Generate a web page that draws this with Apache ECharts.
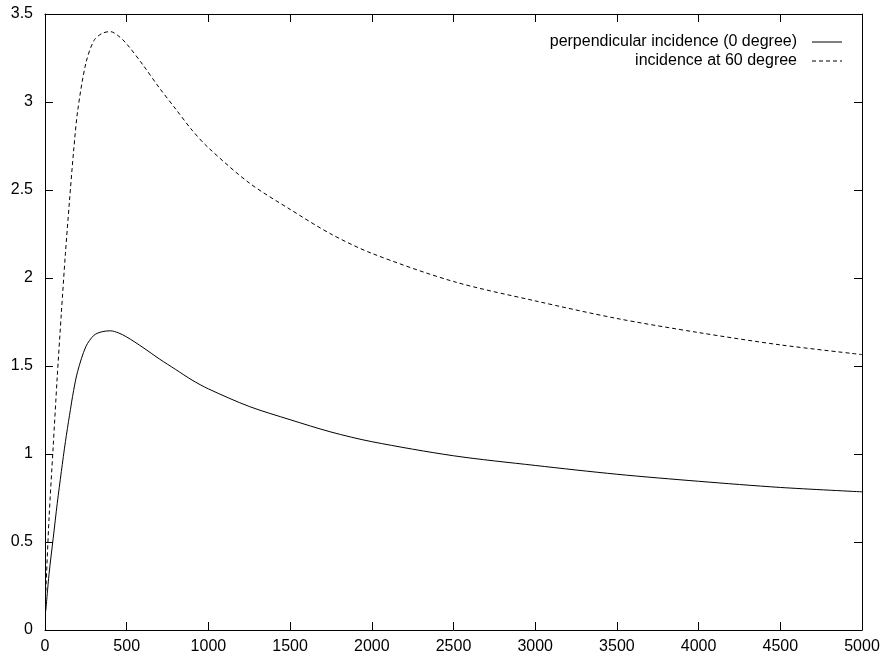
<!DOCTYPE html>
<html>
<head>
<meta charset="utf-8">
<script src="https://cdn.jsdelivr.net/npm/echarts@6/dist/echarts.min.js"></script>
<style>
  html, body { margin: 0; padding: 0; background: #fff; }
  #chart { width: 883px; height: 656px; }
</style>
</head>
<body>
<div id="chart"></div>
<script>
// values
var x_values = [5, 25, 50, 75, 100, 125, 150, 175, 200, 250, 300, 350, 400, 450, 500,
                600, 700, 800, 900, 1000, 1250, 1500, 1750, 2000, 2500, 3000, 3500, 4000, 4500, 5000];
var perpendicular = [0.11, 0.32, 0.52, 0.72, 0.90, 1.07, 1.22, 1.36, 1.47, 1.61, 1.675, 1.695, 1.70, 1.688, 1.665,
                     1.605, 1.54, 1.48, 1.42, 1.37, 1.27, 1.195, 1.125, 1.07, 0.99, 0.935, 0.885, 0.845, 0.81, 0.785];
var at_60 = [0.22, 0.64, 1.04, 1.44, 1.80, 2.14, 2.44, 2.72, 2.95, 3.22, 3.35, 3.39, 3.40, 3.375, 3.33,
             3.21, 3.08, 2.96, 2.84, 2.74, 2.54, 2.39, 2.25, 2.14, 1.98, 1.87, 1.77, 1.69, 1.62, 1.565];
var series_names = ['perpendicular incidence (0 degree)', 'incidence at 60 degree'];

function pairs(ys) {
    return x_values.map(function (x, i) { return [x, ys[i]]; });
}

var font = 'Liberation Sans, Arial, sans-serif';
var tick = { show: true, inside: true, length: 8, lineStyle: { color: '#000', width: 1 } };
var line = { show: true, onZero: false, lineStyle: { color: '#000', width: 1 } };

// legend samples: a plain stroke and a dashed one, drawn as thin bars
var solid_icon = 'path://M0,0h30v1h-30z';
var dashed_icon = 'path://M0,0h4v1h-4z M7,0h4v1h-4z M14,0h4v1h-4z M21,0h4v1h-4z M28,0h2v1h-2z';

var option = {
    backgroundColor: '#fff',
    animation: false,
    grid: { left: 45, right: 21, top: 14, bottom: 26, containLabel: false },
    legend: {
        orient: 'vertical',
        right: 36,
        top: 29,
        align: 'right',
        itemWidth: 30,
        itemHeight: 1,
        itemGap: 3,
        textStyle: { color: '#000', fontSize: 16, fontFamily: font, padding: [0, 10, 0, 0] },
        itemStyle: { color: '#000' },
        data: [
            { name: series_names[0], icon: solid_icon },
            { name: series_names[1], icon: dashed_icon }
        ]
    },
    xAxis: [
        {
            type: 'value', min: 0, max: 5000, interval: 500,
            axisLine: line,
            axisTick: tick,
            axisLabel: { color: '#000', fontSize: 16, fontFamily: font, margin: 9,
                         formatter: function (v) { return String(v); } },
            splitLine: { show: false }
        },
        {
            type: 'value', min: 0, max: 5000, interval: 500, position: 'top',
            axisLine: line,
            axisTick: tick,
            axisLabel: { show: false },
            splitLine: { show: false }
        }
    ],
    yAxis: [
        {
            type: 'value', min: 0, max: 3.5, interval: 0.5,
            axisLine: line,
            axisTick: tick,
            axisLabel: { color: '#000', fontSize: 16, fontFamily: font, margin: 12 },
            splitLine: { show: false }
        },
        {
            type: 'value', min: 0, max: 3.5, interval: 0.5, position: 'right',
            axisLine: line,
            axisTick: tick,
            axisLabel: { show: false },
            splitLine: { show: false }
        }
    ],
    series: [
        {
            name: series_names[0],
            type: 'line',
            symbol: 'none',
            smooth: 0.3,
            lineStyle: { color: '#000', width: 1 },
            itemStyle: { color: '#000' },
            data: pairs(perpendicular)
        },
        {
            name: series_names[1],
            type: 'line',
            symbol: 'none',
            smooth: 0.3,
            lineStyle: { color: '#000', width: 1, type: [4, 3] },
            itemStyle: { color: '#000' },
            data: pairs(at_60)
        }
    ]
};

var chart = echarts.init(document.getElementById('chart'));
chart.setOption(option);
</script>
</body>
</html>
